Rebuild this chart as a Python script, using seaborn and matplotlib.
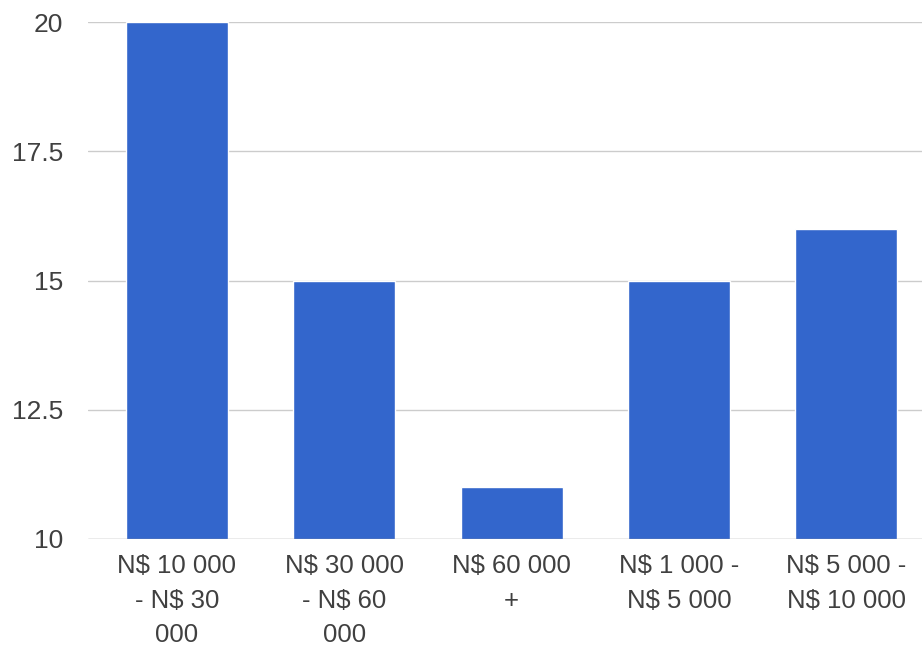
import matplotlib
matplotlib.use("Agg")
import matplotlib.pyplot as plt
import seaborn as sns
import pandas as pd

# Income bands and counts
categories = [
    "N$ 10 000\n- N$ 30\n000",
    "N$ 30 000\n- N$ 60\n000",
    "N$ 60 000\n+",
    "N$ 1 000 -\nN$ 5 000",
    "N$ 5 000 -\nN$ 10 000",
]
values = [20, 15, 11, 15, 16]
y_ticks = [10, 12.5, 15, 17.5, 20]
y_tick_labels = ["10", "12.5", "15", "17.5", "20"]

df = pd.DataFrame({"band": categories, "count": values})

sns.set_theme(style="white")
plt.rcParams["font.family"] = ["Liberation Sans", "DejaVu Sans"]

fig = plt.figure(figsize=(9.22, 6.49), dpi=100)
ax = fig.add_axes([0.0954, 0.1695, 0.9046, 0.7965])

sns.barplot(data=df, x="band", y="count", order=categories, color="#3366cc",
            saturation=1, width=0.61, ax=ax, zorder=3)

ax.set_ylim(10, 20)
ax.set_xlim(-0.532, 4.453)
ax.set_yticks(y_ticks)
ax.set_yticklabels(y_tick_labels)
ax.set_xlabel("")
ax.set_ylabel("")

for y in y_ticks[1:]:
    ax.axhline(y, color="#cccccc", lw=1, zorder=1)
ax.axhline(10, color="#999999", lw=1, zorder=4)

for s in ax.spines.values():
    s.set_visible(False)

ax.tick_params(axis="y", length=0, pad=18, labelsize=19, labelcolor="#404040")
ax.tick_params(axis="x", length=0, pad=11, labelsize=18.5, labelcolor="#404040")
for lbl in ax.get_xticklabels():
    lbl.set_linespacing(1.55)
    lbl.set_verticalalignment("top")

fig.savefig("out.png", dpi=100)
